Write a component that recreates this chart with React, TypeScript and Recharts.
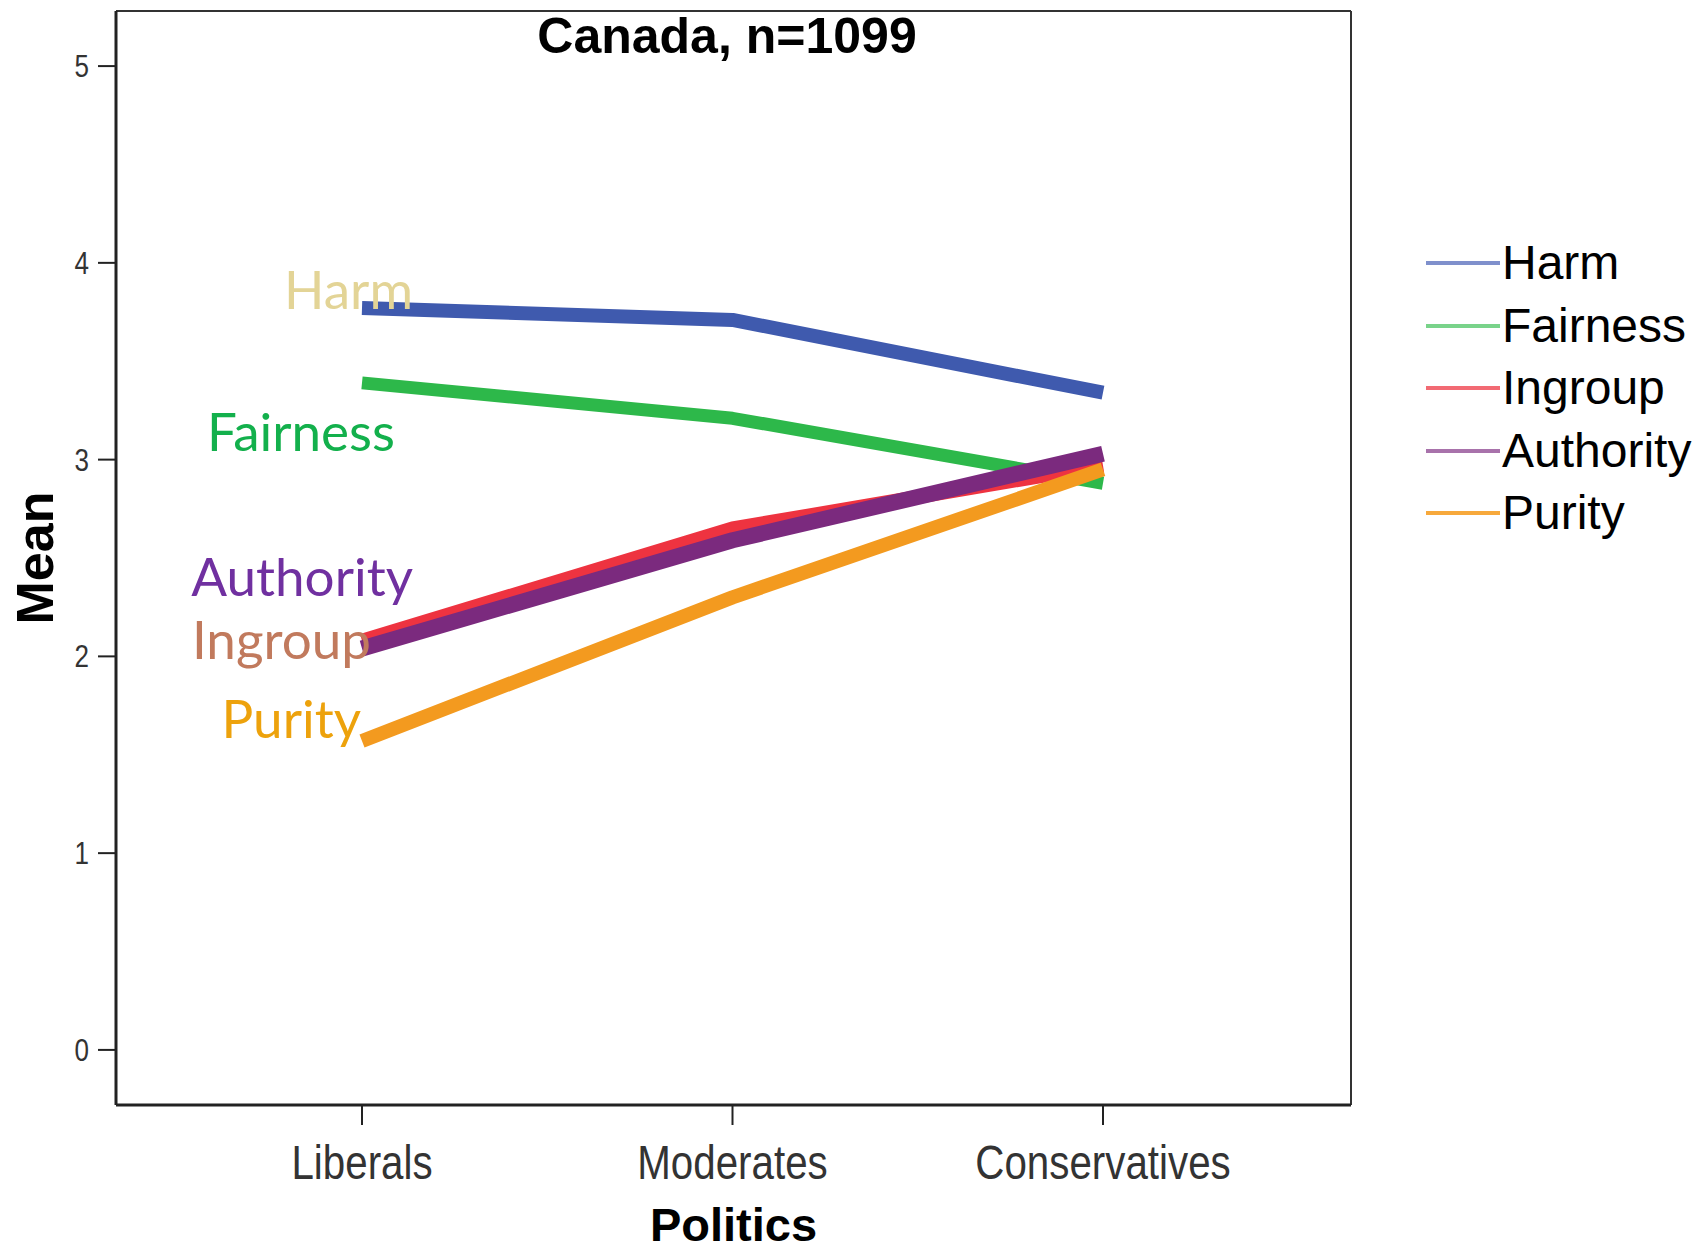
import React from "react";
import { LineChart, Line, XAxis, YAxis, CartesianGrid } from "recharts";

// politics groups and the five foundation means
const categories = ["Liberals", "Moderates", "Conservatives"];
const harm = [3.77, 3.71, 3.34];
const fairness = [3.39, 3.21, 2.88];
const ingroup = [2.08, 2.65, 2.97];
const authority = [2.04, 2.59, 3.03];
const purity = [1.57, 2.3, 2.95];
const yTicks = [0, 1, 2, 3, 4, 5];
const yDomain = [-0.28, 5.28];

const ARIAL = "'Liberation Sans', Arial, sans-serif";

const series = [
  { key: "Harm", values: harm, color: "#3f5aae", legend: "#7f90cc", width: 14, text: "#e3d496", dx: 51, dy: 1 },
  { key: "Fairness", values: fairness, color: "#2db84a", legend: "#79d38a", width: 13, text: "#13b04c", dx: 33, dy: 68 },
  { key: "Ingroup", values: ingroup, color: "#ee3340", legend: "#f26a73", width: 14, text: "#c17a5d", dx: 9, dy: 18 },
  { key: "Authority", values: authority, color: "#7b2a7e", legend: "#a872ab", width: 16, text: "#7030a0", dx: 51, dy: -53 },
  { key: "Purity", values: purity, color: "#f39a1f", legend: "#f7a93c", width: 14, text: "#eda20c", dx: -1, dy: -3 },
];

const data = categories.map((politics, i) => {
  const row: Record<string, string | number> = { politics };
  series.forEach((s) => {
    row[s.key] = s.values[i];
  });
  return row;
});

const makeLabel = (s: (typeof series)[number]) => (props: any) => {
  if (props.index !== 0) return null;
  return (
    <text
      x={props.x + s.dx}
      y={props.y + s.dy}
      textAnchor="end"
      fill={s.text}
      fontFamily="Lato, 'Open Sans', sans-serif"
      fontSize={53}
    >
      {s.key}
    </text>
  );
};

// narrow arial look: squeeze the regular face horizontally
const NarrowTick = ({ x, y, payload, anchor, size, dy }: any) => (
  <g transform={`translate(${x},${y}) scale(0.84,1)`}>
    <text x={0} y={0} dy={dy} textAnchor={anchor} fill="#333" fontFamily={ARIAL} fontSize={size}>
      {payload.value}
    </text>
  </g>
);

const MeanLabel = ({ viewBox }: any) => {
  const cx = (viewBox?.x ?? 0) + 35;
  const cy = (viewBox?.y ?? 11) + (viewBox?.height ?? 1094) / 2;
  return (
    <text
      x={cx}
      y={cy}
      transform={`rotate(-90 ${cx} ${cy})`}
      textAnchor="middle"
      dominantBaseline="central"
      fontFamily={ARIAL}
      fontWeight="bold"
      fontSize={52}
      fill="#000"
    >
      Mean
    </text>
  );
};

export default function App() {
  return (
    <div style={{ position: "absolute", left: 0, top: 0, width: 1701, height: 1252, background: "#fff" }}>
      <LineChart width={1701} height={1252} data={data} margin={{ top: 11, right: 350, bottom: 0, left: 0 }}>
        <CartesianGrid
          stroke="#333"
          strokeWidth={2}
          horizontalCoordinatesGenerator={({ offset }: any) => [offset.top, offset.top + offset.height]}
          verticalCoordinatesGenerator={({ offset }: any) => [offset.left, offset.left + offset.width]}
        />
        <XAxis
          dataKey="politics"
          height={147}
          padding={{ left: 246, right: 248 }}
          tickSize={20}
          tickMargin={20}
          tickLine={{ stroke: "#222", strokeWidth: 2 }}
          axisLine={{ stroke: "#222", strokeWidth: 3 }}
          tick={<NarrowTick anchor="middle" size={48} dy="0.71em" />}
          label={{ value: "Politics", position: "insideBottom", offset: 11, fill: "#000", fontSize: 47, fontWeight: "bold", fontFamily: ARIAL }}
        />
        <YAxis
          type="number"
          domain={yDomain}
          ticks={yTicks}
          width={116}
          tickSize={18}
          tickMargin={9}
          tickLine={{ stroke: "#222", strokeWidth: 2 }}
          axisLine={{ stroke: "#222", strokeWidth: 3 }}
          tick={<NarrowTick anchor="end" size={31} dy="0.355em" />}
          label={<MeanLabel />}
        />
        {series.map((s) => (
          <Line
            key={s.key}
            type="linear"
            dataKey={s.key}
            stroke={s.color}
            strokeWidth={s.width}
            strokeLinecap="butt"
            strokeLinejoin="round"
            dot={false}
            activeDot={false}
            isAnimationActive={false}
            label={makeLabel(s)}
          />
        ))}
      </LineChart>

      <div
        style={{
          position: "absolute",
          left: 116,
          top: 11,
          width: 1222,
          textAlign: "center",
          fontFamily: ARIAL,
          fontWeight: "bold",
          fontSize: 50,
          lineHeight: "50px",
          color: "#000",
        }}
      >
        Canada, n=1099
      </div>

      <div style={{ position: "absolute", left: 1426, top: 232 }}>
        {series.map((s) => (
          <div key={s.key} style={{ display: "flex", alignItems: "center", height: 62.5 }}>
            <div style={{ width: 74, height: 4, background: s.legend, marginRight: 2 }} />
            <span style={{ fontFamily: ARIAL, fontSize: 48, lineHeight: "62px", color: "#000" }}>{s.key}</span>
          </div>
        ))}
      </div>
    </div>
  );
}
